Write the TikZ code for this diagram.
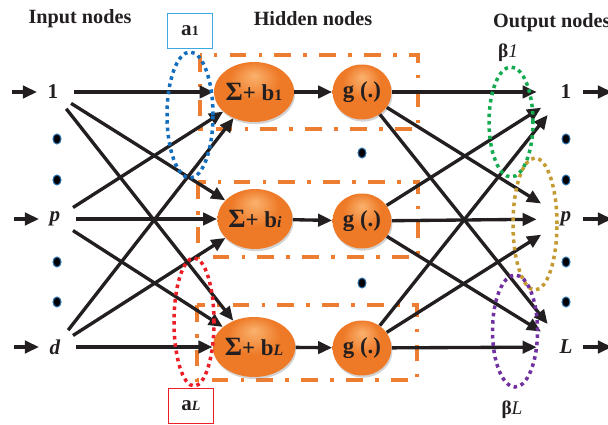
\documentclass[tikz,border=0pt]{standalone}
\usepackage{fontspec}
\setmainfont{Liberation Serif}
\usetikzlibrary{arrows.meta,positioning,shapes.geometric,shadows}

\definecolor{inkgray}{RGB}{35,31,32}
\definecolor{nodeorange}{RGB}{238,122,40}
\definecolor{nodedark}{RGB}{190,84,16}
\definecolor{glowtop}{RGB}{250,178,110}
\definecolor{boxorange}{RGB}{237,125,49}
\definecolor{dotblue}{RGB}{40,110,170}
\definecolor{ringblue}{RGB}{20,110,190}
\definecolor{ringred}{RGB}{235,30,40}
\definecolor{ringgreen}{RGB}{20,170,80}
\definecolor{ringgold}{RGB}{196,154,50}
\definecolor{ringpurple}{RGB}{112,48,160}
\definecolor{tagblue}{RGB}{60,170,225}

\pgfdeclareradialshading{glossorange}{\pgfpoint{0bp}{14bp}}{color(0bp)=(glowtop); color(16bp)=(nodeorange); color(34bp)=(nodeorange); color(46bp)=(nodedark); color(50bp)=(nodedark)}

\begin{document}
\begin{tikzpicture}[
    x=0.02cm, y=-0.02cm,
    inlabel/.style={circle, minimum size=0.84cm, inner sep=0pt, text=inkgray, font=\fontsize{12}{12}\selectfont\bfseries},
    outlabel/.style={inlabel, minimum size=1.16cm},
    sumnode/.style={ellipse, minimum width=1.3cm, minimum height=1.2cm, inner sep=0pt, shading=glossorange,
        drop shadow={opacity=0.35, shadow xshift=0.6pt, shadow yshift=-1.2pt}, text=inkgray, font=\fontsize{13}{13}\selectfont\bfseries},
    actnode/.style={sumnode, minimum width=1.18cm, minimum height=1.1cm},
    vdot/.style={ellipse, draw=dotblue, line width=0.6pt, fill=black, minimum width=0.16cm, minimum height=0.2cm, inner sep=0pt},
    link/.style={line width=1.9pt, draw=inkgray, -{Triangle[length=8pt,width=7pt]}},
    hidbox/.style={draw=boxorange, line width=1.8pt, dash pattern=on 9.5pt off 7pt on 2pt off 7pt},
    ring/.style={ellipse, draw=#1, line width=2pt, dash pattern=on 2pt off 2.2pt, inner sep=0pt},
    tagbox/.style={draw=#1, line width=0.8pt, minimum width=0.9cm, minimum height=0.7cm, text=inkgray, font=\fontsize{12}{12}\selectfont\bfseries},
    title/.style={text=inkgray, font=\fontsize{11.5}{11.5}\selectfont\bfseries}
]
\useasboundingbox (0,0) rectangle (608,425);

% Titles
\node[title] (tin) at (80,19) {Input nodes};
\node[title] (thid) at (313,19) {Hidden nodes};
\node[title, anchor=west] (tout) at (487,23) {Output nodes};

% Hidden layer boxes
\draw[hidbox] (200,55) rectangle (418,129);
\draw[hidbox] (198,182) rectangle (418,257);
\draw[hidbox] (197,305) rectangle (417,380);

% Input nodes
\node[inlabel] (in1) at (53,92) {1};
\node[inlabel] (inp) at (55,219) {\textit{p}};
\node[inlabel] (ind) at (55,347) {\textit{d}};

% Hidden nodes
\node[sumnode] (s1) at (254,92) {{\fontsize{15}{15}\selectfont Σ}+ b{\fontsize{9}{9}\selectfont 1}};
\node[sumnode] (s2) at (255,219) {{\fontsize{15}{15}\selectfont Σ}+ b{\fontsize{9}{9}\selectfont\itshape i}};
\node[sumnode] (s3) at (254,347) {{\fontsize{15}{15}\selectfont Σ}+ b{\fontsize{9}{9}\selectfont\itshape L}};
\node[actnode] (g1) at (362,92) {g (.)};
\node[actnode] (g2) at (362,221) {g (.)};
\node[actnode] (g3) at (362,348) {g (.)};

% Output nodes
\node[outlabel] (out1) at (566,92) {1};
\node[outlabel] (outp) at (566,219) {\textit{p}};
\node[outlabel] (outL) at (566,347) {\textit{L}};

% Ellipsis dots
\foreach \y [count=\k] in {139,180,262,302} {
  \node[vdot] (din\k) at (57,\y) {};
  \node[vdot] (dout\k) at (566,\y) {};
}
\node[vdot] (dhid1) at (362,153) {};
\node[vdot] (dhid2) at (362,283) {};

% Connections
\foreach \n in {in1,inp,ind}
  \draw[link] ([xshift=-0.82cm]\n.center) -- ([xshift=-0.32cm]\n.center);
\foreach \i in {in1,inp,ind}
  \foreach \h in {s1,s2,s3}
    \draw[link] (\i) -- (\h);
\foreach \h/\g in {s1/g1,s2/g2,s3/g3}
  \draw[link] (\h) -- (\g);
\foreach \g in {g1,g2,g3}
  \foreach \o in {out1,outp,outL}
    \draw[link] (\g) -- (\o);
\foreach \n in {out1,outp,outL}
  \draw[link] ([xshift=0.34cm]\n.center) -- ([xshift=0.92cm]\n.center);

% Weight groups
\node[ring=ringblue, minimum width=0.92cm, minimum height=2.52cm] (wa1) at (190,115) {};
\node[ring=ringred, minimum width=0.8cm, minimum height=2.56cm] (waL) at (194,322) {};
\node[ring=ringgreen, minimum width=0.88cm, minimum height=2.2cm] (wb1) at (511,122) {};
\node[ring=ringgold, minimum width=0.88cm, minimum height=2.64cm] (wbp) at (535,224) {};
\node[ring=ringpurple, minimum width=0.9cm, minimum height=2.24cm] (wbL) at (515,331) {};

% Labels
\node[tagbox=tagblue] (ta1) at (190,31) {a{\fontsize{8}{8}\selectfont 1}};
\node[tagbox=ringred] (taL) at (191,406) {a{\fontsize{8}{8}\selectfont\itshape L}};
\node[title, font=\fontsize{11}{11}\selectfont] (lb1) at (508,53) {\textbf{β}\textit{1}};
\node[title, font=\fontsize{11}{11}\selectfont] (lbL) at (512,410) {\textbf{β}\textit{L}};

\end{tikzpicture}
\end{document}
